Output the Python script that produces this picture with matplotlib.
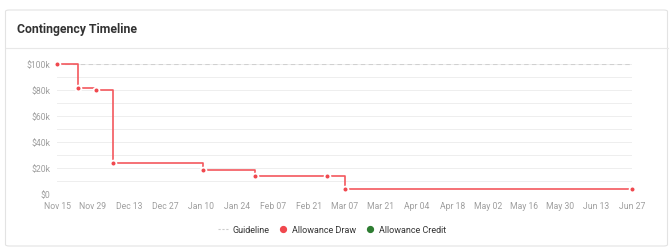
import numpy as np
import pandas as pd
import matplotlib
matplotlib.use("Agg")
import matplotlib.pyplot as plt
import matplotlib.dates as mdates
from matplotlib.lines import Line2D
from matplotlib.patches import FancyBboxPatch

plt.rcParams['font.family'] = ['Roboto', 'DejaVu Sans']

# data
draw_dates = ["2022-11-15", "2022-11-23", "2022-11-30", "2022-12-07",
              "2023-01-11", "2023-01-31", "2023-02-28", "2023-03-07",
              "2023-06-27"]
draw_values = [100000, 81500, 80000, 23800, 18600, 14000, 13800, 3500, 3500]
guideline_value = 100000
tick_start = "2022-11-15"
tick_end = "2023-06-27"
y_ticks = [0, 20000, 40000, 60000, 80000, 100000]
y_labels = ["$0", "$20k", "$40k", "$60k", "$80k", "$100k"]

RED = "#f0484e"
LINE_RED = "#f3585d"
GREEN = "#2e7d32"
GREY_TXT = "#9e9e9e"


def main():
    dates = pd.to_datetime(draw_dates)
    W, H = 670, 253
    fig = plt.figure(figsize=(W / 100, H / 100), dpi=100)

    # card + header
    card = FancyBboxPatch((5.5 / W, 6 / H), 662 / W, 236 / H,
                          boxstyle="round,pad=0,rounding_size=0.006",
                          transform=fig.transFigure, facecolor="white",
                          edgecolor="#e3e3e3", linewidth=0.8, zorder=-2)
    fig.patches.append(card)
    fig.lines.append(Line2D([5.5 / W, 667.5 / W], [1 - 48.5 / H, 1 - 48.5 / H],
                            transform=fig.transFigure, color="#e8e8e8",
                            linewidth=0.8, zorder=-1))
    fig.text(17 / W, 1 - 29 / H, "Contingency Timeline", fontsize=8.8,
             fontweight="bold", color="#333333", va="center", ha="left")

    ax = fig.add_axes([57 / W, 1 - 195 / H, 575 / W, 130 / H])
    ax.set_facecolor("none")
    ax.set_xlim(pd.Timestamp(tick_start), pd.Timestamp(tick_end))
    ax.set_ylim(0, 100000)

    ax.set_yticks(y_ticks)
    ax.set_yticklabels(y_labels)
    ax.set_yticks(np.arange(0, 100001, 10000), minor=True)
    ax.grid(axis="y", which="both", color="#eeeeee", linewidth=0.7)
    ax.tick_params(axis="y", which="both", length=0, pad=5, labelsize=6.2,
                   labelcolor=GREY_TXT)

    xt = pd.date_range(tick_start, tick_end, freq="14D")
    ax.set_xticks(xt)
    ax.xaxis.set_major_formatter(mdates.DateFormatter("%b %d"))
    ax.tick_params(axis="x", length=0, pad=5, labelsize=6.2, labelcolor=GREY_TXT)
    for s in ax.spines.values():
        s.set_visible(False)
    ax.set_axisbelow(True)

    ax.plot([pd.Timestamp(tick_start), pd.Timestamp(tick_end)],
            [guideline_value, guideline_value], color="#d0d0d0",
            linewidth=0.8, dashes=(4, 3), zorder=2)
    ax.step(dates, draw_values, where="post", color=LINE_RED, linewidth=1.2,
            zorder=3, clip_on=False)
    ax.plot(dates, draw_values, linestyle="none", marker="o", markersize=4.2,
            markerfacecolor=RED, markeredgecolor="white", markeredgewidth=1.3,
            zorder=4, clip_on=False)

    handles = [
        Line2D([], [], color="#cccccc", linewidth=0.8, dashes=(2, 1.5)),
        Line2D([], [], linestyle="none", marker="o", markersize=4.2, color=RED),
        Line2D([], [], linestyle="none", marker="o", markersize=4.2, color=GREEN),
    ]
    fig.legend(handles, ["Guideline", "Allowance Draw", "Allowance Credit"],
               loc="center", bbox_to_anchor=(332 / W, 1 - 231 / H), ncol=3,
               frameon=False, fontsize=6.5, handlelength=1.2, handletextpad=0.4,
               columnspacing=0.9, labelcolor="#333333")

    fig.savefig("out.png", dpi=100)


if __name__ == "__main__":
    main()
